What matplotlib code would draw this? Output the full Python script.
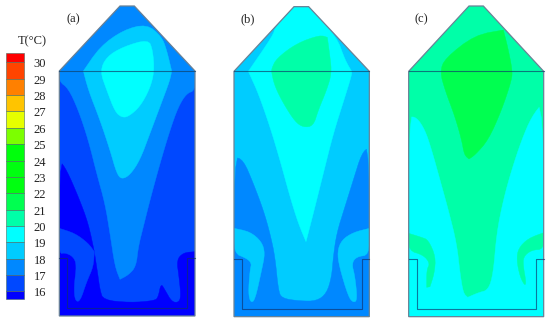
"""Contour panels (a)-(c) of temperature in a silo section, with a stepped colour key."""

import matplotlib

matplotlib.use("Agg")
import matplotlib.pyplot as plt
from matplotlib.patches import Polygon

plt.rcParams["font.family"] = ["Liberation Serif", "DejaVu Serif"]

# ---- data ------------------------------------------------------------------

# Colour key, top to bottom. The label sits at the lower edge of its cell.
key_labels = [30, 29, 28, 27, 26, 25, 24, 23, 22, 21, 20, 19, 18, 17, 16]
key_colors = [
    "#ff0000", "#ff4400", "#ff8000", "#ffc400", "#e6ff00", "#7cff00", "#00ff0c",
    "#00ff10", "#00ff10", "#00ff50", "#00ffa8", "#00ffff", "#00ccff", "#0088ff",
    "#0048ff", "#0000ff",
]
key_edges = [53.3, 62.3, 78.7, 95, 111.3, 127.7, 144.3, 160.7, 177, 193.3,
             209.7, 226, 242.3, 258.7, 275, 291.3, 299.3]

C16, C17, C18, C19, C20, C21, C22 = ("#0000ff", "#0048ff", "#0088ff", "#00ccff",
                                     "#00ffff", "#00ffa8", "#00ff50")

# All contour outlines below were read off at 3x zoom: x relative to the panel
# offset, y from the top of the picture.
a_offset, b_offset, c_offset = 0, 220, 395

a_outline = [(178, 948), (178, 213), (360, 18), (403, 18), (585, 213), (585, 948)]
a_t16 = [(178, 480), (200, 510), (235, 590), (265, 670), (283, 755), (293, 820),
         (300, 870), (310, 900), (390, 908), (465, 902), (475, 890), (483, 850),
         (495, 870), (515, 905), (535, 908), (543, 890), (537, 830), (530, 780),
         (550, 758), (585, 755), (585, 948), (178, 948)]
a_t17_patch = [(178, 685), (225, 700), (265, 730), (283, 755), (280, 800), (260, 845),
               (240, 905), (225, 902), (222, 860), (230, 795), (220, 770), (195, 758),
               (178, 762)]
a_t18 = [(178, 245), (178, 213), (360, 18), (403, 18), (585, 213), (585, 272),
         (560, 280), (535, 320), (510, 390), (480, 490), (450, 600), (430, 680),
         (415, 740), (408, 800), (385, 825), (360, 838), (345, 800), (330, 700),
         (315, 610), (290, 520), (265, 420), (235, 330), (205, 265)]
a_t19 = [(250, 213), (300, 140), (370, 90), (440, 72), (485, 110), (500, 150),
         (515, 213), (510, 240), (480, 320), (450, 400), (420, 480), (390, 525),
         (365, 538), (350, 520), (330, 450), (300, 360), (265, 270)]
a_t20 = [(300, 213), (320, 170), (370, 140), (445, 118), (458, 150), (463, 213),
         (450, 265), (420, 320), (385, 350), (365, 352), (345, 335), (320, 270)]

b_outline = [(42, 950), (42, 214), (222, 20), (266, 20), (448, 214), (448, 950)]
b_t18 = [(42, 470), (70, 480), (100, 550), (130, 630), (150, 700), (165, 770),
         (175, 870), (185, 895), (240, 903), (290, 903), (320, 880), (335, 830),
         (340, 770), (350, 700), (375, 620), (400, 540), (425, 460), (448, 440),
         (448, 950), (42, 950)]
b_t19_left = [(42, 685), (90, 695), (125, 725), (135, 760), (125, 810), (105, 900),
              (92, 908), (85, 880), (90, 810), (95, 790), (80, 775), (42, 760)]
b_t19_right = [(448, 685), (400, 697), (365, 720), (352, 755), (358, 800), (385, 890),
               (400, 908), (412, 900), (405, 830), (395, 790), (410, 770), (448, 765)]
b_t20 = [(85, 214), (160, 105), (165, 82), (222, 20), (266, 20), (350, 110),
         (375, 180), (395, 214), (395, 225), (375, 290), (340, 400), (310, 520),
         (280, 640), (258, 725), (235, 670), (210, 590), (180, 480), (150, 380),
         (115, 280), (90, 225)]
b_t21 = [(155, 205), (170, 175), (230, 130), (300, 105), (322, 112), (330, 170),
         (335, 220), (320, 270), (295, 330), (280, 378), (250, 382), (225, 365),
         (190, 310), (165, 260), (155, 220)]

c_outline = [(41, 950), (41, 214), (222, 18), (265, 18), (446, 214), (446, 950)]
c_t20 = [(41, 350), (65, 352), (90, 390), (110, 450), (135, 540), (160, 630),
         (185, 730), (195, 820), (205, 880), (218, 892), (250, 878), (280, 870),
         (295, 820), (305, 700), (325, 600), (350, 510), (380, 420), (410, 350),
         (446, 305), (446, 950), (41, 950)]
c_t21_left = [(41, 700), (80, 712), (100, 720), (122, 770), (118, 820), (105, 860),
              (95, 862), (95, 810), (105, 790), (85, 765), (41, 752)]
c_t21_right = [(446, 698), (400, 715), (370, 745), (365, 780), (375, 830), (390, 858),
               (393, 845), (385, 800), (385, 770), (410, 750), (446, 748)]
c_t22 = [(135, 215), (150, 175), (240, 105), (325, 90), (338, 140), (352, 210),
         (350, 240), (320, 330), (280, 420), (240, 465), (222, 477), (208, 465),
         (200, 420), (180, 350), (150, 270)]

a_channel = [(178, 775), (200, 775), (200, 925), (562, 925), (562, 775), (585, 775)]
b_channel = [(42, 778), (65, 778), (65, 926), (425, 926), (425, 778), (448, 778)]
c_channel = [(41, 778), (65, 778), (65, 926), (423, 926), (423, 778), (446, 778)]

# Contour tips that stay pointed in the reference.
a_tips = [(360, 838), (250, 213), (515, 213), (283, 755), (178, 685), (585, 755)]
b_tips = [(258, 725), (85, 214), (395, 214), (42, 685), (448, 685), (322, 112)]
c_tips = [(218, 892), (222, 477), (325, 90), (41, 700), (446, 698), (105, 860), (95, 862)]

panels = [
    ("(a)", a_offset, 73, a_outline, a_channel, C17, a_tips,
     [(a_t16, C16), (a_t17_patch, C17), (a_t18, C18), (a_t19, C19), (a_t20, C20)]),
    ("(b)", b_offset, 247.7, b_outline, b_channel, C19, b_tips,
     [(b_t18, C18), (b_t19_left, C19), (b_t19_right, C19), (b_t20, C20), (b_t21, C21)]),
    ("(c)", c_offset, 421.7, c_outline, c_channel, C21, c_tips,
     [(c_t20, C20), (c_t21_left, C21), (c_t21_right, C21), (c_t22, C22)]),
]


def to_px(points, offset):
    """Convert 3x zoom readings to picture pixels."""
    return [(offset + x / 3, y / 3) for x, y in points]


def smooth(points, fixed, rounds=2):
    """Corner-cut a closed contour, leaving outline vertices and sharp tips alone."""
    for _ in range(rounds):
        out = []
        for i, p in enumerate(points):
            if p in fixed:
                out.append(p)
                continue
            prev, nxt = points[i - 1], points[(i + 1) % len(points)]
            out.append((0.75 * p[0] + 0.25 * prev[0], 0.75 * p[1] + 0.25 * prev[1]))
            out.append((0.75 * p[0] + 0.25 * nxt[0], 0.75 * p[1] + 0.25 * nxt[1]))
        points = out
    return points


fig = plt.figure(figsize=(5.5, 3.24), dpi=100)
ax = fig.add_axes([0, 0, 1, 1])
ax.set_xlim(0, 550)
ax.set_ylim(324, 0)
ax.axis("off")

for name, offset, label_x, outline, channel, base, tips, regions in panels:
    outline_px = to_px(outline, offset)
    body = Polygon(outline_px, closed=True, facecolor=base, edgecolor="none")
    ax.add_patch(body)
    for points, color in regions:
        region = Polygon(to_px(smooth(points, set(outline) | set(tips)), offset),
                         closed=True, facecolor=color, edgecolor=color, linewidth=0.3)
        ax.add_patch(region)
        region.set_clip_path(body)
    ax.add_patch(Polygon(outline_px, closed=True, facecolor="none",
                         edgecolor="#6a8296", linewidth=0.9))
    shoulder_left, shoulder_right = outline_px[1], outline_px[4]
    ax.plot([shoulder_left[0], shoulder_right[0]], [shoulder_left[1], shoulder_right[1]],
            color="#10406a", alpha=0.7, linewidth=0.8)
    channel_px = to_px(channel, offset)
    ax.plot([p[0] for p in channel_px], [p[1] for p in channel_px],
            color="#10306a", alpha=0.65, linewidth=0.8)
    ax.text(label_x, 19, name, fontsize=9, ha="center", va="center", color="#222222")

# colour key
for top, bottom, color in zip(key_edges[:-1], key_edges[1:], key_colors):
    ax.bar(15, bottom - top, width=18, bottom=top, color=color,
           edgecolor="#4a6a60", linewidth=0.4)
for label, edge in zip(key_labels, key_edges[1:]):
    ax.text(40, edge + 2, str(label), fontsize=9, ha="center", va="center",
            color="#222222")
ax.text(32, 41, "T(°C)", fontsize=9, ha="center", va="center", color="#222222")

fig.savefig("out.png", dpi=100)
